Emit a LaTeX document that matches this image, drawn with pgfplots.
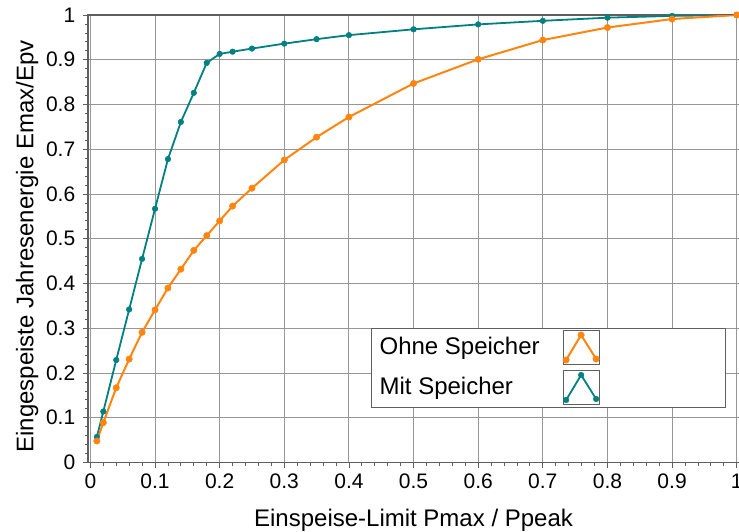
\documentclass[border=0pt]{standalone}
\usepackage{pgfplots}
\usepackage{pgfplotstable}
\usepackage{fontspec}
\setmainfont{Liberation Sans}
\pgfplotsset{compat=1.18}
\definecolor{ohneorange}{RGB}{255,133,17}
\definecolor{mitteal}{RGB}{0,128,128}
\definecolor{framegray}{RGB}{95,95,95}
\definecolor{gridgray}{RGB}{150,150,150}

% Ohne Speicher
\pgfplotstableread{
x y
0.01 0.048
0.02 0.089
0.04 0.167
0.06 0.231
0.08 0.291
0.10 0.341
0.12 0.390
0.14 0.432
0.16 0.474
0.18 0.507
0.20 0.540
0.22 0.573
0.25 0.613
0.30 0.676
0.35 0.727
0.40 0.772
0.50 0.847
0.60 0.901
0.70 0.944
0.80 0.972
0.90 0.991
1.00 1.000
}\ohnedata

% Mit Speicher
\pgfplotstableread{
x y
0.01 0.057
0.02 0.114
0.04 0.229
0.06 0.342
0.08 0.455
0.10 0.567
0.12 0.678
0.14 0.761
0.16 0.826
0.18 0.893
0.20 0.913
0.22 0.918
0.25 0.925
0.30 0.936
0.35 0.946
0.40 0.955
0.50 0.968
0.60 0.979
0.70 0.987
0.80 0.994
0.90 0.998
1.00 1.000
}\mitdata

\begin{document}
\begin{tikzpicture}
\begin{axis}[
    scale only axis,
    width=652.8pt, height=447.5pt,
    xmin=-0.004, xmax=1.006, ymin=0, ymax=1,
    xtick={0,0.1,0.2,0.3,0.4,0.5,0.6,0.7,0.8,0.9,1},
    ytick={0,0.1,0.2,0.3,0.4,0.5,0.6,0.7,0.8,0.9,1},
    minor tick num=4,
    tick align=outside,
    tick pos=left,
    major tick length=5pt,
    minor tick length=3pt,
    every tick/.style={framegray, line width=0.8pt},
    grid=major,
    major grid style={gridgray, line width=1pt},
    axis line style={framegray, line width=1.6pt},
    ticklabel style={font=\fontsize{21}{25}\selectfont},
    /pgf/number format/assume math mode=true,
    xticklabel style={yshift=-3pt},
    yticklabel style={xshift=-4pt},
    xlabel={Einspeise-Limit Pmax / Ppeak},
    ylabel={Eingespeiste Jahresenergie Emax/Epv},
    label style={font=\fontsize{24}{28}\selectfont},
    xlabel style={at={(axis description cs:0.499,-0.144)}, anchor=base},
    ylabel style={at={(axis description cs:-0.093,0.483)}, anchor=center},
    legend plot pos=right,
    reverse legend,
    legend style={at={(axis description cs:0.434,0.3006)}, anchor=north west,
        draw=framegray, line width=1pt, fill=white, inner xsep=6pt, inner ysep=2pt,
        font=\fontsize{24}{28}\selectfont, row sep=5pt},
    legend image code/.code={
        \draw[framegray, line width=1pt, fill=white] (0pt,-18.5pt) rectangle (36pt,15.5pt);
        \draw[#1, mark repeat=1] plot coordinates {(3pt,-13.5pt) (18pt,11.5pt) (33pt,-12.5pt)};
        \path[draw=none, fill=none] (0pt,0pt) -- (156pt,0pt);
    },
]
\addplot[mitteal, line width=1.8pt, mark=*, mark size=2.8pt,
    mark options={fill=mitteal, line width=0.5pt}] table {\mitdata};
\addlegendentry{\makebox[181pt][l]{Mit Speicher}}
\addplot[ohneorange, line width=2pt, mark=*, mark size=3.2pt,
    mark options={fill=ohneorange, line width=0.5pt}] table {\ohnedata};
\addlegendentry{\makebox[181pt][l]{Ohne Speicher}}
\end{axis}
\pgfresetboundingbox
\path (current axis.south west) ++(-87.8pt,-68.5pt) rectangle ++(739pt,531pt);
\end{tikzpicture}
\end{document}
